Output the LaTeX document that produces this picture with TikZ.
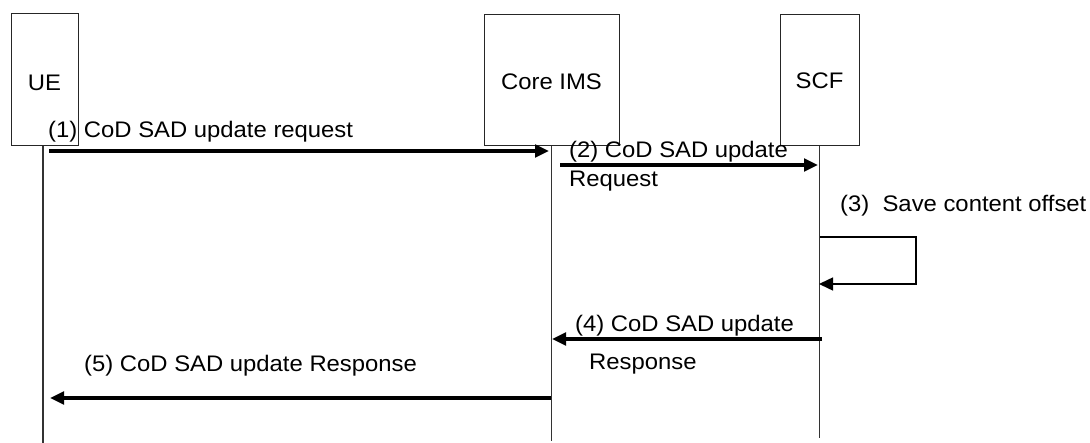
\documentclass[tikz,border=0pt]{standalone}
\usepackage{fontspec}
\setmainfont{Liberation Sans}[FakeStretch=1.06]
\usetikzlibrary{arrows.meta}
\begin{document}
\begin{tikzpicture}[x=1pt,y=-1pt,
  every node/.style={font=\fontsize{22.5}{27}\selectfont},
  entity/.style={draw=black!85,line width=1pt,inner sep=0pt,anchor=center},
  life/.style={draw=black!80,line width=1.2pt},
  msg/.style={draw=black,line width=3.3pt,-{Triangle[length=14pt,width=12.5pt]}},
  loopline/.style={draw=black,line width=1.5pt,-{Triangle[length=14pt,width=13pt]}},
  lbl/.style={anchor=base west,inner sep=0pt}]
\useasboundingbox (0,0) rectangle (1090,443);
% entities
\node[entity,minimum width=67pt,minimum height=132pt] (ue) at (44.5,80) {\raisebox{-11pt}[0pt][0pt]{UE}};
\node[entity,minimum width=135pt,minimum height=131pt] (ims) at (551.5,80.5) {\raisebox{-9.5pt}[0pt][0pt]{Core IMS}};
\node[entity,minimum width=79pt,minimum height=131pt] (scf) at (819.5,80.5) {\raisebox{-8.5pt}[0pt][0pt]{SCF}};
% lifeline ends
\coordinate (ueend) at (43,443);
\coordinate (imsend) at (551.5,441);
\coordinate (scfend) at (819.5,438);
\draw[life] (ueend |- ue.south) -- (ueend);
\draw[life] (imsend |- ims.south) -- (imsend);
\draw[life] (scfend |- scf.south) -- (scfend);
% message end points
\coordinate (m1s) at (49,151);   \coordinate (m1e) at (549,151);
\coordinate (m2s) at (560,165);  \coordinate (m2e) at (818,165);
\coordinate (l3a) at (820,237);  \coordinate (l3b) at (916,237);
\coordinate (l3c) at (916,284);  \coordinate (l3d) at (819,284);
\coordinate (m4s) at (822,339);  \coordinate (m4e) at (552,339);
\coordinate (m5s) at (551,398);  \coordinate (m5e) at (50,398);
% messages
\draw[msg] (m1s) -- (m1e);
\draw[msg] (m2s) -- (m2e);
\draw[loopline] (l3a) -- (l3b) -- (l3c) -- (l3d);
\draw[msg] (m4s) -- (m4e);
\draw[msg] (m5s) -- (m5e);
% labels
\node[lbl] (t1) at (48,138) {(1) CoD SAD update request};
\node[lbl] (t2a) at (569,158) {(2) CoD SAD update};
\node[lbl] (t2b) at (569,187) {Request};
\node[lbl] (t3) at (840,212) {(3)\ \ Save content offset};
\node[lbl] (t4a) at (575,332) {(4) CoD SAD update};
\node[lbl] (t4b) at (589,370) {Response};
\node[lbl] (t5) at (84,372) {(5) CoD SAD update Response};
\end{tikzpicture}
\end{document}
